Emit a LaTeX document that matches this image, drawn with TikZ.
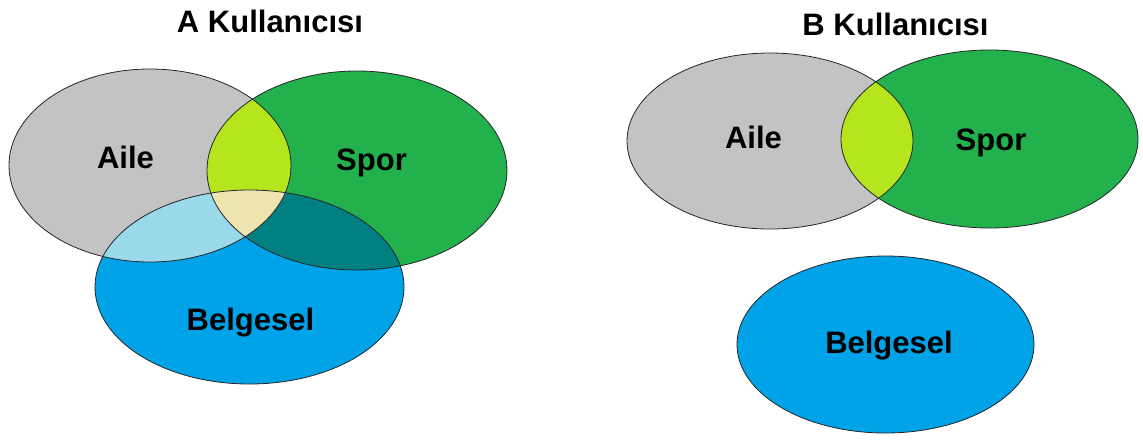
\documentclass[tikz,border=0pt]{standalone}
\usepackage{fontspec}
\setmainfont{Liberation Sans}
\definecolor{aile}{HTML}{C3C3C3}
\definecolor{spor}{HTML}{22B14C}
\definecolor{belgesel}{HTML}{00A2E8}
\definecolor{aileSpor}{HTML}{B5E61D}
\definecolor{aileBelgesel}{HTML}{99D9EA}
\definecolor{sporBelgesel}{HTML}{008080}
\definecolor{ucKume}{HTML}{EFE4B0}
\newcommand{\aileA}{(150,165.5) ellipse [x radius=141pt, y radius=96.5pt]}
\newcommand{\sporA}{(357,170.5) ellipse [x radius=150pt, y radius=99.5pt]}
\newcommand{\belgeselA}{(249.5,287) ellipse [x radius=154.5pt, y radius=97pt]}
\newcommand{\aileB}{(770,141) ellipse [x radius=143pt, y radius=88pt]}
\newcommand{\sporB}{(989.5,139) ellipse [x radius=148.5pt, y radius=89pt]}
\newcommand{\belgeselB}{(885.5,344.5) ellipse [x radius=148.5pt, y radius=88.5pt]}
\begin{document}
\begin{tikzpicture}[x=1pt,y=-1pt,
        etiket/.style={font=\fontsize{31}{36}\selectfont\bfseries, anchor=base, inner sep=0pt},
        kenar/.style={draw=black!85, line width=0.8pt}]
    \useasboundingbox (0,0) rectangle (1143,440);
    % A Kullanicisi
    \fill[aile] \aileA;
    \fill[spor] \sporA;
    \fill[belgesel] \belgeselA;
    \begin{scope}
        \clip \sporA;
        \fill[sporBelgesel] \belgeselA;
    \end{scope}
    \begin{scope}
        \clip \aileA;
        \fill[aileSpor] \sporA;
        \fill[aileBelgesel] \belgeselA;
        \clip \sporA;
        \fill[ucKume] \belgeselA;
    \end{scope}
    \draw[kenar] \aileA;
    \draw[kenar] \sporA;
    \draw[kenar] \belgeselA;
    \node[etiket] (baslikA) at (270,32) {A Kullanıcısı};
    \node[etiket] (aileEtiketA) at (125.5,168) {Aile};
    \node[etiket] (sporEtiketA) at (371.5,170) {Spor};
    \node[etiket] (belgeselEtiketA) at (250.5,330) {Belgesel};
    % B Kullanicisi
    \fill[aile] \aileB;
    \fill[spor] \sporB;
    \begin{scope}
        \clip \aileB;
        \fill[aileSpor] \sporB;
    \end{scope}
    \fill[belgesel] \belgeselB;
    \draw[kenar] \aileB;
    \draw[kenar] \sporB;
    \draw[kenar] \belgeselB;
    \node[etiket] (baslikB) at (895.5,35) {B Kullanıcısı};
    \node[etiket] (aileEtiketB) at (753.5,148) {Aile};
    \node[etiket] (sporEtiketB) at (991,150) {Spor};
    \node[etiket] (belgeselEtiketB) at (889,353) {Belgesel};
\end{tikzpicture}
\end{document}
